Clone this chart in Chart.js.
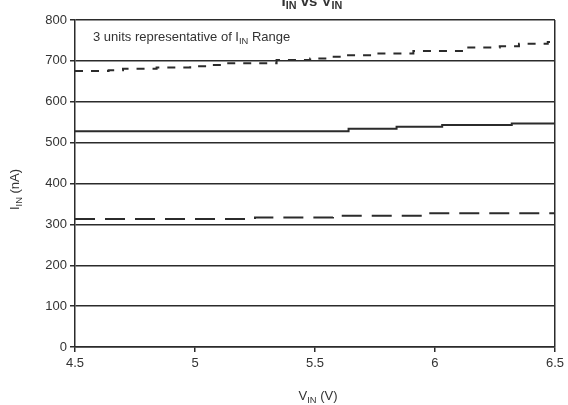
<!DOCTYPE html>
<html>
<head>
<meta charset="utf-8">
<script src="https://cdn.jsdelivr.net/npm/chart.js@4/dist/chart.umd.min.js"></script>
<style>
  html, body { margin: 0; padding: 0; background: #fff; }
  #wrap { width: 568px; height: 405px; }
</style>
</head>
<body>
<div id="wrap"><canvas id="chart" width="568" height="405"></canvas></div>
<script>
// V_IN ticks and I_IN ticks
const vinTicks = [4.5, 5, 5.5, 6, 6.5];
const iinTicks = [0, 100, 200, 300, 400, 500, 600, 700, 800];

// unit 1 (short dashes)
const topV = [4.5, 4.64, 4.70, 4.84, 4.98, 5.06, 5.13, 5.34, 5.48, 5.56, 5.61, 5.76, 5.91, 6.13, 6.27, 6.35, 6.47, 6.5];
const topI = [675, 677, 681, 684, 687, 690, 694, 702, 706, 710, 714, 718, 724, 733, 736, 742, 746, 746];
// unit 2 (solid)
const midV = [4.5, 5.64, 5.84, 6.03, 6.32, 6.5];
const midI = [528, 534, 539, 543, 547, 547];
// unit 3 (long dashes)
const lowV = [4.5, 5.25, 5.575, 5.95, 6.5];
const lowI = [313, 317, 321, 327, 327];

const pts = (xs, ys) => xs.map((x, i) => ({ x: x, y: ys[i] }));
const FONT = '"Liberation Sans", Arial, sans-serif';
const INK = '#2b2b2b';

// draw text pieces, some as subscripts: parts = [[text, isSub], ...]
function subText(ctx, parts, x, y, size, weight) {
    const sizes = parts.map(p => p[1] ? size * 0.72 : size);
    let total = 0;
    parts.forEach((p, i) => {
        ctx.font = weight + ' ' + sizes[i] + 'px ' + FONT;
        total += ctx.measureText(p[0]).width;
    });
    return { total, draw(startX) {
        let cx = startX;
        parts.forEach((p, i) => {
            ctx.font = weight + ' ' + sizes[i] + 'px ' + FONT;
            ctx.fillText(p[0], cx, p[1] ? y + size * 0.2 : y);
            cx += ctx.measureText(p[0]).width;
        });
    }};
}

const labelsPlugin = {
    id: 'labels',
    afterDraw(chart) {
        const ctx = chart.ctx;
        const area = chart.chartArea;
        const cx = (area.left + area.right) / 2;
        ctx.save();
        ctx.fillStyle = '#333';
        ctx.textBaseline = 'alphabetic';
        ctx.textAlign = 'left';

        // title, mostly cut off at the top edge
        let t = subText(ctx, [['I', false], ['IN', true], [' vs V', false], ['IN', true]], 0, 6, 15, 'bold');
        t.draw(cx - 3 - t.total / 2);

        // note inside the plot
        t = subText(ctx, [['3 units representative of I', false], ['IN', true], [' Range', false]], 0, 41, 13, 'normal');
        t.draw(area.left + 18);

        // x axis title
        t = subText(ctx, [['V', false], ['IN', true], [' (V)', false]], 0, 400, 13, 'normal');
        t.draw(cx + 3 - t.total / 2);

        // y axis title
        ctx.translate(19, (area.top + area.bottom) / 2 + 6);
        ctx.rotate(-Math.PI / 2);
        t = subText(ctx, [['I', false], ['IN', true], [' (nA)', false]], 0, 0, 13, 'normal');
        t.draw(-t.total / 2);
        ctx.restore();
    }
};

new Chart(document.getElementById('chart').getContext('2d'), {
    type: 'line',
    data: {
        datasets: [
            { label: 'unit 1', data: pts(topV, topI), stepped: true, borderColor: INK, borderWidth: 2, borderDash: [8, 8], pointRadius: 0, fill: false },
            { label: 'unit 2', data: pts(midV, midI), stepped: true, borderColor: INK, borderWidth: 2, pointRadius: 0, fill: false },
            { label: 'unit 3', data: pts(lowV, lowI), stepped: true, borderColor: INK, borderWidth: 2, borderDash: [20, 10], pointRadius: 0, fill: false }
        ]
    },
    options: {
        responsive: false,
        animation: false,
        layout: { padding: { left: 0, top: 20, right: 13, bottom: 0 } },
        plugins: { legend: { display: false }, tooltip: { enabled: false } },
        scales: {
            x: {
                type: 'linear',
                min: 4.5,
                max: 6.5,
                afterBuildTicks: (s) => { s.ticks = vinTicks.map(v => ({ value: v })); },
                afterFit: (s) => { s.height = 58; },
                grid: {
                    drawOnChartArea: true,
                    color: (c) => c.tick && c.tick.value === 6.5 ? INK : 'rgba(0,0,0,0)',
                    tickColor: INK,
                    tickLength: 5,
                    lineWidth: 1.5
                },
                border: { color: INK, width: 1.5 },
                ticks: {
                    color: '#333',
                    font: { family: FONT, size: 13 },
                    padding: 4,
                    maxRotation: 0,
                    callback: (v) => String(v)
                }
            },
            y: {
                min: 0,
                max: 800,
                afterBuildTicks: (s) => { s.ticks = iinTicks.map(v => ({ value: v })); },
                afterFit: (s) => { s.width = 75; },
                grid: { color: INK, tickColor: INK, tickLength: 5, lineWidth: 1.5 },
                border: { color: INK, width: 1.5 },
                ticks: { color: '#333', font: { family: FONT, size: 13 }, padding: 3 }
            }
        }
    },
    plugins: [labelsPlugin]
});
</script>
</body>
</html>
